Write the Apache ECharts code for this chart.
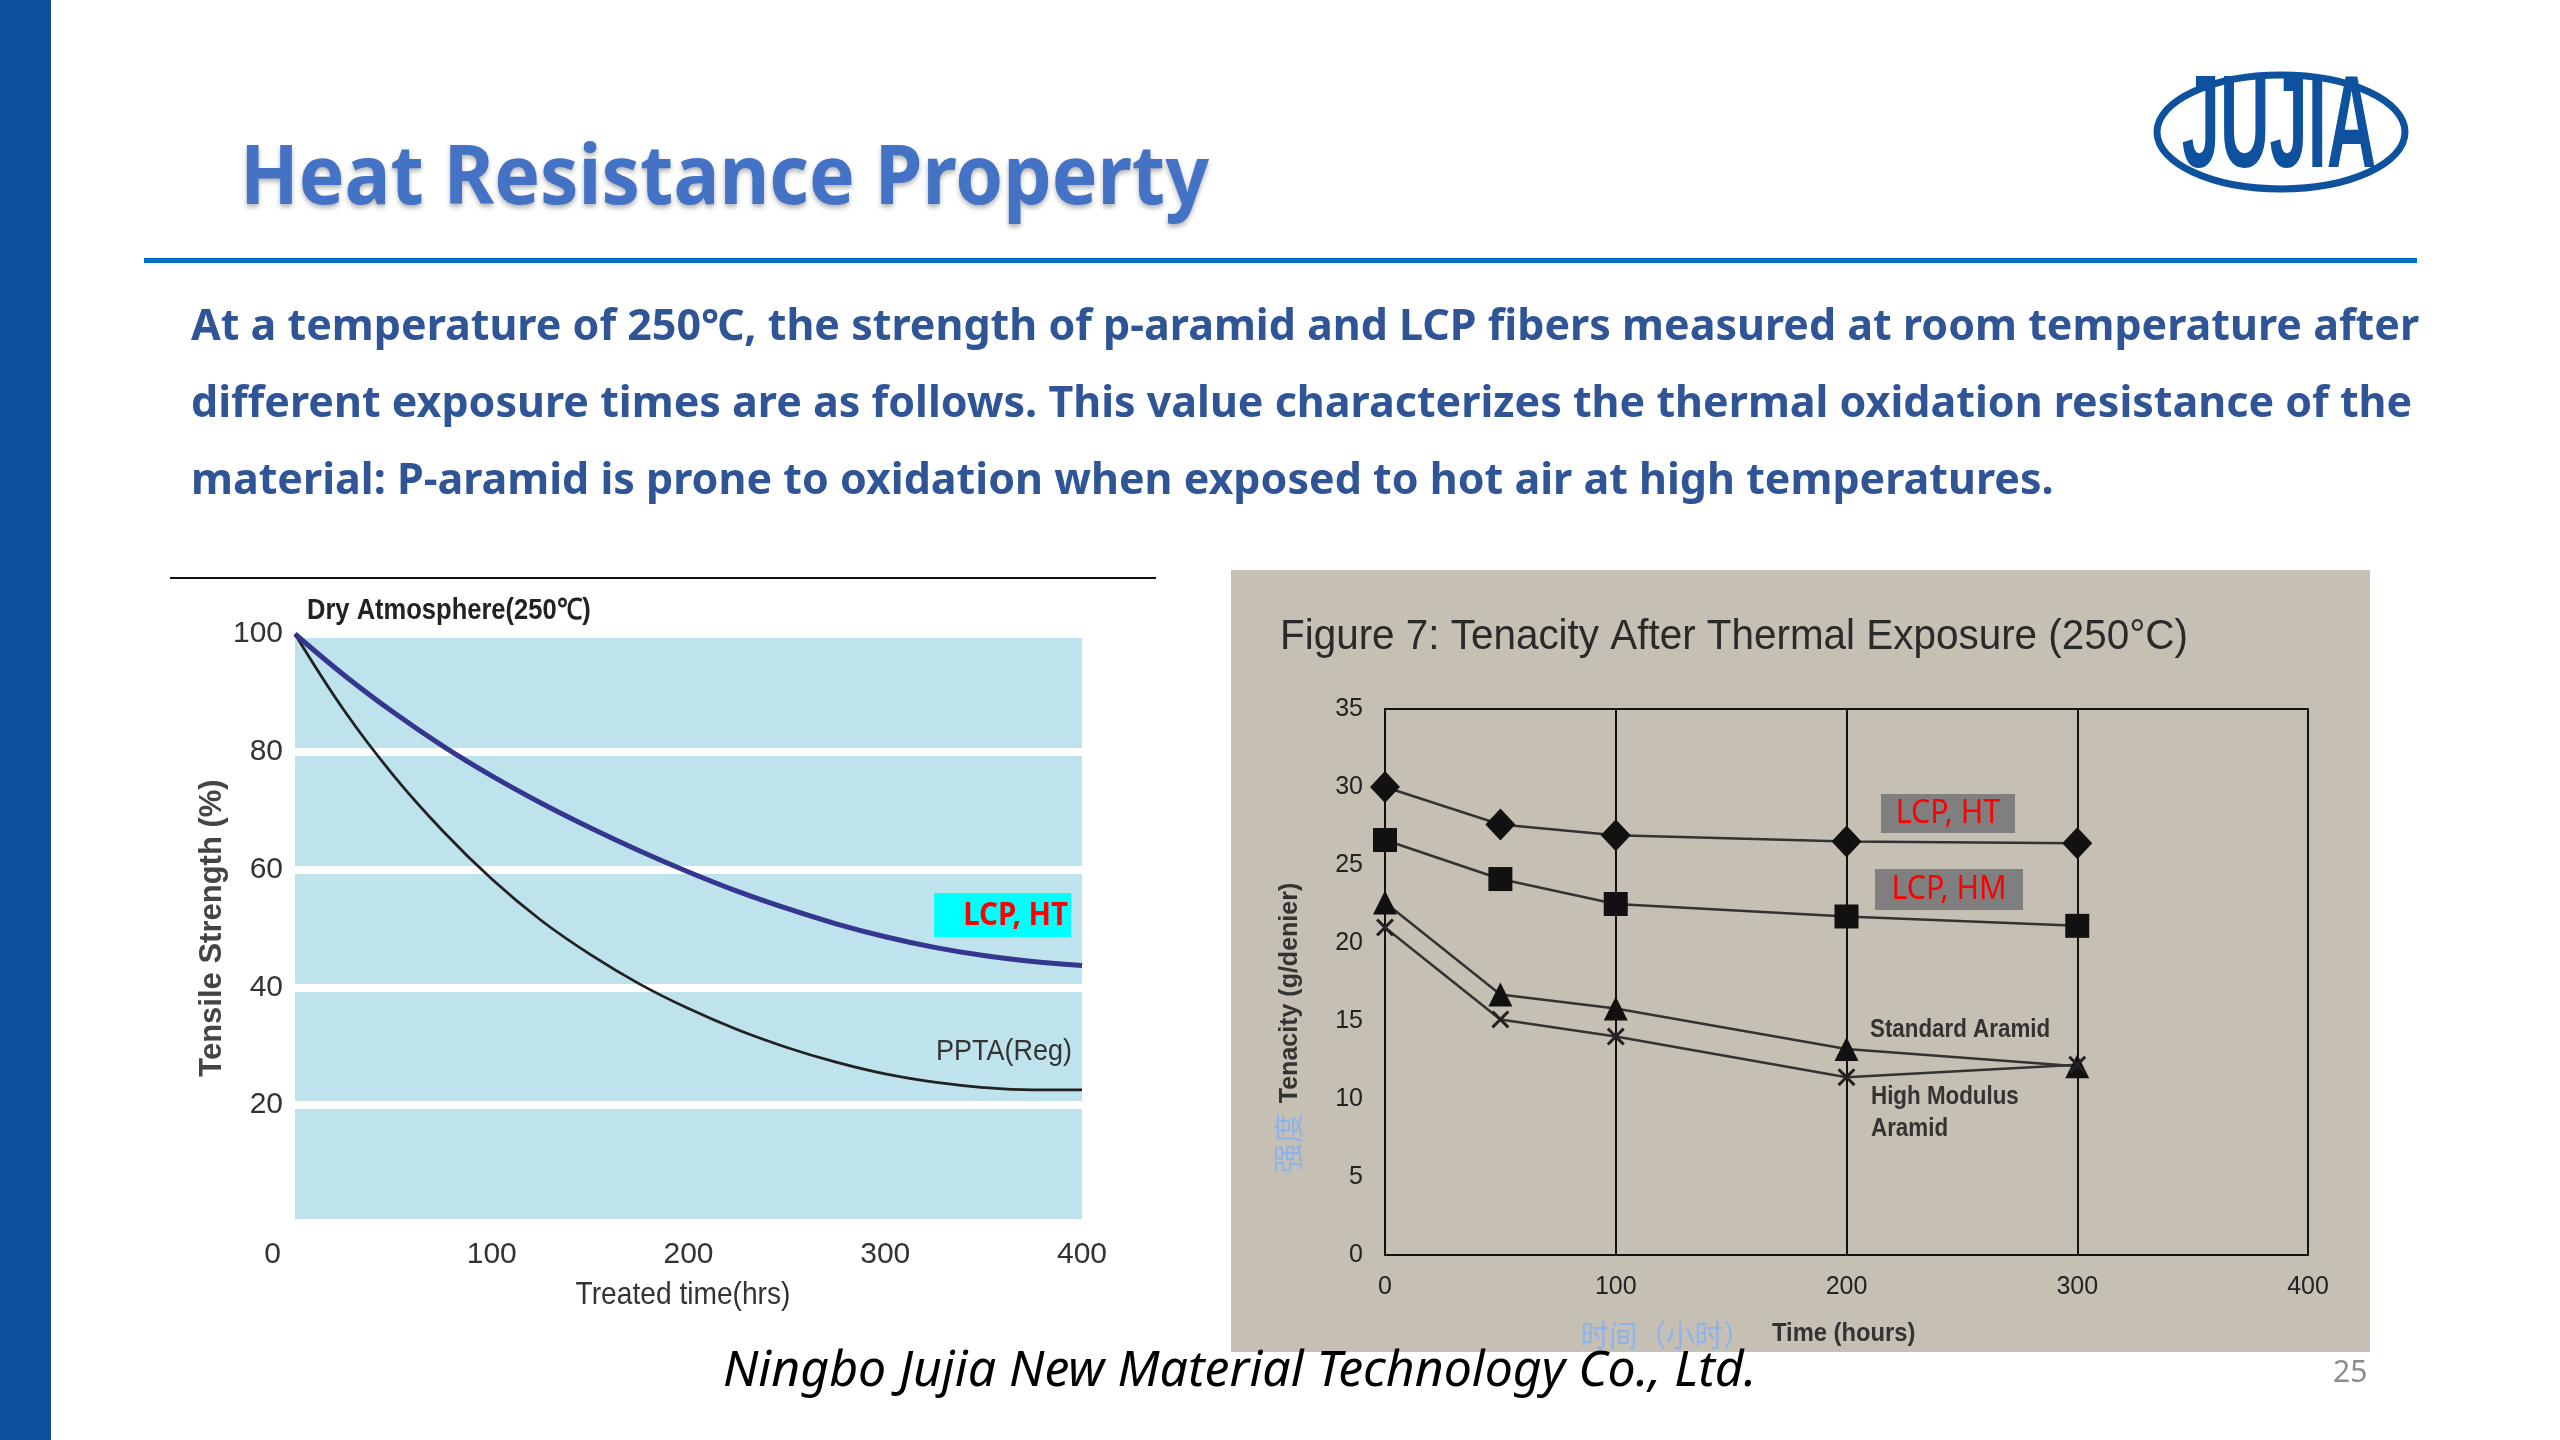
<!DOCTYPE html>
<html><head><meta charset="utf-8">
<script src="https://cdn.jsdelivr.net/npm/echarts@6/dist/echarts.min.js"></script>
<style>html,body{margin:0;padding:0;background:#fff}#c{width:2560px;height:1440px}</style>
</head><body><div id="c"></div>
<script>
// ---- data ----
const leftTimes = [0,25,50,75,100,125,150,175,200,225,250,275,300,325,350,375,400];
const lcpHTStrength = [100,93.0,86.7,81.0,75.9,71.3,67.1,63.2,59.6,56.3,53.4,50.8,48.6,46.8,45.4,44.4,43.7];
const pptaStrength = [100,87.0,76.0,66.6,58.4,51.4,45.6,40.6,36.4,32.8,29.8,27.3,25.3,23.9,23.0,22.6,22.6];
const leftXTicks = [0,100,200,300,400];
const leftYTicks = [20,40,60,80,100];

const rightTimes = [0,50,100,200,300];
const lcpHTTenacity = [30.0,27.6,26.9,26.5,26.4];
const lcpHMTenacity = [26.6,24.1,22.5,21.7,21.1];
const standardAramid = [22.6,16.7,15.8,13.2,12.1];
const highModulusAramid = [21.0,15.1,14.0,11.4,12.2];

const titleText = 'Heat Resistance Property';
const paragraphLines = [
  'At a temperature of 250℃, the strength of p-aramid and LCP fibers measured at room temperature after',
  'different exposure times are as follows. This value characterizes the thermal oxidation resistance of the',
  'material: P-aramid is prone to oxidation when exposed to hot air at high temperatures.'
];
const footerText = 'Ningbo Jujia New Material Technology Co., Ltd.';
const pageNumber = '25';

// ---- chart ----
const SANS = '"Liberation Sans",Arial,sans-serif';
const NOTO = '"Noto Sans",sans-serif';
const CJK = '"Noto Sans CJK SC",sans-serif';
const zip = (xs, ys) => xs.map((x, i) => [x, ys[i]]);
const chart = echarts.init(document.getElementById('c'), null, {renderer:'canvas', width:2560, height:1440});

const xMark = 'path://M0,1.2L1.2,0L5,3.8L8.8,0L10,1.2L6.2,5L10,8.8L8.8,10L5,6.2L1.2,10L0,8.8L3.8,5Z';

// text helper: positioned element, optional horizontal squeeze
function txt(x, y, text, st, opts) {
  opts = opts || {};
  return {type:'text', z:5, x:x, y:y, scaleX:opts.sx || 1, rotation:opts.rot || 0,
    style:Object.assign({text:text, x:0, y:0, textVerticalAlign:'middle'}, st)};
}

const graphics = [
  {type:'rect', z:-5, shape:{x:0,y:0,width:51,height:1440}, style:{fill:'#0c4f9b'}},
  txt(240, 180, titleText, {fontSize:83, fontWeight:'bold', fontFamily:NOTO, fill:'#4472c4',
    textShadowColor:'rgba(0,0,0,0.3)', textShadowBlur:5, textShadowOffsetY:3}, {sx:0.925}),
  {type:'rect', z:5, shape:{x:144,y:258,width:2273,height:5}, style:{fill:'#0070c0'}},
  // logo
  {type:'ellipse', z:5, shape:{cx:2281,cy:132,rx:124,ry:57}, style:{fill:'none',stroke:'#0e519e',lineWidth:7}},
  txt(2279, 131, 'JUJIA', {fontSize:132, fontWeight:'bold', fontFamily:SANS, fill:'#0e519e', textAlign:'center'}, {sx:0.52}),
  // left chart decorations
  {type:'rect', z:5, shape:{x:170,y:577,width:986,height:2}, style:{fill:'#111'}},
  txt(307, 611, 'Dry Atmosphere(250℃)', {fontSize:29, fontWeight:'bold', fontFamily:SANS, fill:'#222'}, {sx:0.88}),
  txt(212, 928, 'Tensile Strength (%)', {fontSize:31, fontWeight:'bold', fontFamily:SANS, fill:'#444', textAlign:'center'}, {rot:Math.PI/2}),
  txt(683, 1295, 'Treated time(hrs)', {fontSize:32, fontFamily:SANS, fill:'#333', textAlign:'center'}, {sx:0.88}),
  {type:'rect', z:5, shape:{x:934,y:893,width:137,height:44}, style:{fill:'#00ffff'}},
  txt(1068, 916, 'LCP, HT', {fontSize:32, fontWeight:'bold', fontFamily:NOTO, fill:'#ff0000', textAlign:'right'}, {sx:0.92}),
  txt(1072, 1052, 'PPTA(Reg)', {fontSize:30, fontFamily:SANS, fill:'#333', textAlign:'right'}, {sx:0.9}),
  // right chart decorations
  {type:'rect', z:-5, shape:{x:1231,y:570,width:1139,height:782}, style:{fill:'#c6bfb3'}},
  txt(1280, 637, 'Figure 7: Tenacity After Thermal Exposure (250°C)', {fontSize:43, fontFamily:SANS, fill:'#2a2a2a'}, {sx:0.94}),
  txt(1290, 993, 'Tenacity (g/denier)', {fontSize:25, fontWeight:'bold', fontFamily:SANS, fill:'#333', textAlign:'center'}, {rot:Math.PI/2}),
  txt(1288, 1143, '强度', {fontSize:30, fontFamily:CJK, fill:'#8db3ea', textAlign:'center'}, {rot:Math.PI/2}),
  txt(1666, 1335, '时间（小时）', {fontSize:30, fontFamily:CJK, fill:'#8db3ea', textAlign:'center'}, {sx:0.95}),
  txt(1772, 1334, 'Time (hours)', {fontSize:25, fontWeight:'bold', fontFamily:SANS, fill:'#333'}, {sx:0.95}),
  {type:'rect', z:5, shape:{x:1881,y:794,width:134,height:39}, style:{fill:'#7f7f7f'}},
  txt(1948, 814, 'LCP, HT', {fontSize:32, fontFamily:NOTO, fill:'#ff0000', textAlign:'center'}, {sx:0.95}),
  {type:'rect', z:5, shape:{x:1875,y:869,width:148,height:41}, style:{fill:'#7f7f7f'}},
  txt(1949, 890, 'LCP, HM', {fontSize:32, fontFamily:NOTO, fill:'#ff0000', textAlign:'center'}, {sx:0.95}),
  txt(1870, 1030, 'Standard Aramid', {fontSize:26, fontWeight:'bold', fontFamily:SANS, fill:'#333'}, {sx:0.86}),
  txt(1871, 1097, 'High Modulus', {fontSize:26, fontWeight:'bold', fontFamily:SANS, fill:'#333'}, {sx:0.86}),
  txt(1871, 1129, 'Aramid', {fontSize:26, fontWeight:'bold', fontFamily:SANS, fill:'#333'}, {sx:0.86}),
  // footer
  txt(723, 1372, footerText, {fontSize:50, fontStyle:'italic', fontFamily:NOTO, fill:'#000'}),
  txt(2333, 1373, pageNumber, {fontSize:30, fontFamily:NOTO, fill:'#8c8c8c'})
];
paragraphLines.forEach((t, i) => {
  graphics.push(txt(191, 328 + i*77, t, {fontSize:43, fontWeight:'bold', fontFamily:NOTO, fill:'#2f5597'}));
});

const rightLine = {color:'#333', width:2.5};
chart.setOption({
  animation:false,
  backgroundColor:'#ffffff',
  graphic:graphics,
  grid:[
    {left:295, top:634, width:787, height:589, show:true, backgroundColor:'#bee3ec', borderWidth:0},
    {left:1385, top:709, width:923, height:546, show:true, backgroundColor:'transparent', borderColor:'#111', borderWidth:2}
  ],
  xAxis:[
    {gridIndex:0, type:'value', min:0, max:400, interval:100,
      axisLine:{show:false}, axisTick:{show:false}, splitLine:{show:false},
      axisLabel:{fontSize:30, fontFamily:SANS, color:'#333', margin:17, alignMinLabel:'right',
        formatter:v => leftXTicks.includes(v) ? (v === 0 ? '{z|0}' : String(v)) : '',
        rich:{z:{fontSize:30, fontFamily:SANS, color:'#333', padding:[0,14,0,0]}}}},
    {gridIndex:1, type:'value', min:0, max:400, interval:100,
      axisLine:{show:false}, axisTick:{show:false},
      splitLine:{show:true, lineStyle:{color:'#111', width:2}},
      axisLabel:{fontSize:25, fontFamily:SANS, color:'#222', margin:20}}
  ],
  yAxis:[
    {gridIndex:0, type:'value', min:0, max:100, interval:20,
      axisLine:{show:false}, axisTick:{show:false},
      splitLine:{show:true, lineStyle:{color:'#ffffff', width:8}},
      axisLabel:{fontSize:30, fontFamily:SANS, color:'#333', margin:12, formatter:v => leftYTicks.includes(v) ? String(v) : ''}},
    {gridIndex:1, type:'value', min:0, max:35, interval:5,
      axisLine:{show:false}, axisTick:{show:false}, splitLine:{show:false},
      axisLabel:{fontSize:25, fontFamily:SANS, color:'#222', margin:22}}
  ],
  series:[
    {type:'line', xAxisIndex:0, yAxisIndex:0, name:'LCP, HT', data:zip(leftTimes, lcpHTStrength), smooth:0.4, showSymbol:false, symbol:'none',
      lineStyle:{color:'#35368f', width:5}, z:4},
    {type:'line', xAxisIndex:0, yAxisIndex:0, name:'PPTA(Reg)', data:zip(leftTimes, pptaStrength), smooth:0.4, showSymbol:false, symbol:'none',
      lineStyle:{color:'#222', width:2.8}, z:3},
    {type:'line', xAxisIndex:1, yAxisIndex:1, name:'LCP, HT', data:zip(rightTimes, lcpHTTenacity), symbol:'diamond', symbolSize:[30,32],
      itemStyle:{color:'#111'}, lineStyle:rightLine},
    {type:'line', xAxisIndex:1, yAxisIndex:1, name:'LCP, HM', data:zip(rightTimes, lcpHMTenacity), symbol:'rect', symbolSize:24,
      itemStyle:{color:'#111'}, lineStyle:rightLine},
    {type:'line', xAxisIndex:1, yAxisIndex:1, name:'Standard Aramid', data:zip(rightTimes, standardAramid), symbol:'triangle', symbolSize:[24,24],
      itemStyle:{color:'#111'}, lineStyle:rightLine},
    {type:'line', xAxisIndex:1, yAxisIndex:1, name:'High Modulus Aramid', data:zip(rightTimes, highModulusAramid), symbol:xMark, symbolSize:18,
      itemStyle:{color:'#222'}, lineStyle:rightLine}
  ]
});
</script></body></html>
